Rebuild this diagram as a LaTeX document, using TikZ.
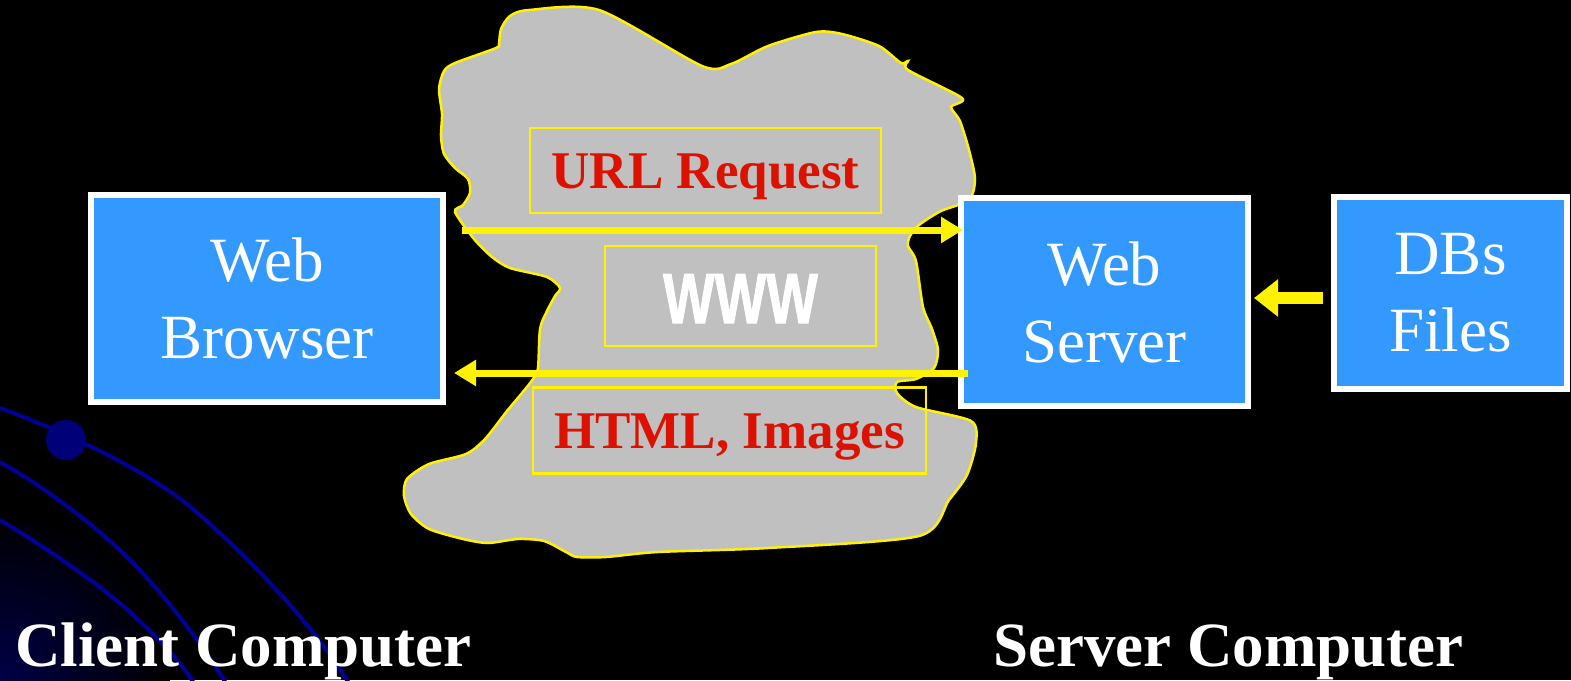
\documentclass[tikz,border=0pt]{standalone}
\usepackage{fontspec}
\usepackage{graphicx}
\setmainfont{Liberation Serif}
\newfontfamily\wwwfont{Liberation Sans Bold}[FakeBold=1.5]
\usetikzlibrary{arrows.meta}
\definecolor{skyblue}{RGB}{51,153,255}
\definecolor{blobgray}{RGB}{192,192,192}
\definecolor{tagred}{RGB}{221,17,0}
\definecolor{orbitblue}{RGB}{0,0,150}
\definecolor{planet}{RGB}{0,0,120}
\tikzset{
 bluebox/.style={draw=white, line width=6pt, fill=skyblue, inner sep=0pt, outer sep=0pt,
   text=white, font=\fontsize{63}{77}\selectfont, align=center},
 tagbox/.style={draw=yellow, line width=2.5pt, inner sep=0pt, outer sep=0pt, text=tagred,
   font=\bfseries\fontsize{53}{60}\selectfont, text height=36pt, text depth=0pt},
 flow/.style={draw=yellow, line width=7pt, -{Triangle[length=22pt,width=25pt]}},
 bigflow/.style={draw=yellow, line width=12pt, -{Triangle[length=24pt,width=36pt]}},
 caption/.style={text=white, font=\bfseries\fontsize{63}{70}\selectfont, anchor=base west, inner sep=0pt},
 orbit/.style={draw=orbitblue, line width=4pt},
 cloud/.style={fill=blobgray, draw=yellow, line width=2.5pt},
}
\begin{document}
\begin{tikzpicture}[x=1pt,y=-1pt]
\useasboundingbox (0,0) rectangle (1571,680);
\fill[black] (0,0) rectangle (1571,680);
% corner glow and orbits
\begin{scope}
\clip (0,0) rectangle (1571,680);
\shade[inner color={rgb,255:red,0;green,0;blue,70}, outer color=black] (0,680) circle (170);
\draw[orbit] (0,408) .. controls (60,430) and (150,470) .. (200,515)
  .. controls (250,560) and (310,620) .. (350,685);
\draw[orbit] (0,462) .. controls (50,490) and (100,530) .. (130,560)
  .. controls (160,590) and (200,640) .. (227,685);
\draw[orbit] (0,520) .. controls (50,550) and (100,585) .. (130,612)
  .. controls (155,635) and (180,660) .. (195,685);
\end{scope}
\fill[planet] (66,440) circle (20);
% the cloud
\draw[cloud] plot[smooth cycle, tension=0.45] coordinates {
 (529,10) (599,10) (702,66) (731,64) (768,46) (816,32) (842,34) (879,46) (901,63) (908,61)
 (908,70) (962,98) (951,107) (960,121) (969,150) (975,179) (969,200) (941,211) (919,225)
 (910,236) (908,246) (916,261) (923,307) (932,329) (938,350) (934,368) (916,379) (897,382)
 (897,393) (916,407) (971,421) (976,443) (967,475) (949,500) (919,536) (768,548) (658,552)
 (606,557) (577,557) (566,552) (544,541) (518,539) (488,543) (463,539) (429,529) (411,514)
 (404,496) (407,479) (429,464) (466,454) (485,439) (507,411) (522,393) (533,379) (538,368)
 (540,329) (547,311) (555,296) (560,288) (547,277) (510,268) (492,257) (474,239) (455,212)
 (463,205) (470,193) (468,179) (455,168) (444,154) (441,136) (442,114) (439,89) (444,71)
 (455,63) (496,48) (499,43) (501,29) (510,16)};
% boxes
\node[bluebox, minimum width=352pt, minimum height=207pt] (browser) at (267,298.5) {Web\\Browser};
\node[bluebox, minimum width=287pt, minimum height=208pt] (server) at (1104.5,302) {Web\\Server};
\node[bluebox, minimum width=233pt, minimum height=192pt] (dbs) at (1450.5,293) {DBs\\Files};
\node[tagbox, minimum width=351pt, minimum height=85pt] (url) at (705.5,170.5) {URL Request};
\node[tagbox, minimum width=393pt, minimum height=86pt] (html) at (729.5,430.5) {HTML, Images};
\node[tagbox, minimum width=271pt, minimum height=100pt, text=white, text height=54pt,
  font=\wwwfont\fontsize{71}{71}\selectfont] (www) at (740.5,296) {\scalebox{0.77}[1]{WWW}};
% connectors
\coordinate (reqstart) at (462,230);
\coordinate (retstart) at (968,373);
\draw[flow, shorten >=-2pt] (reqstart) -- (reqstart -| server.west);
\draw[flow, shorten >=11pt] (retstart) -- (retstart -| browser.east);
\draw[bigflow, shorten <=11pt, shorten >=6pt] ([yshift=-5pt]dbs.west) -- ([yshift=-5pt]dbs.west -| server.east);
% captions
\node[caption] (client) at (15,666) {Client Computer};
\node[caption] (servercomp) at (993,666) {Server Computer};
\end{tikzpicture}
\end{document}
